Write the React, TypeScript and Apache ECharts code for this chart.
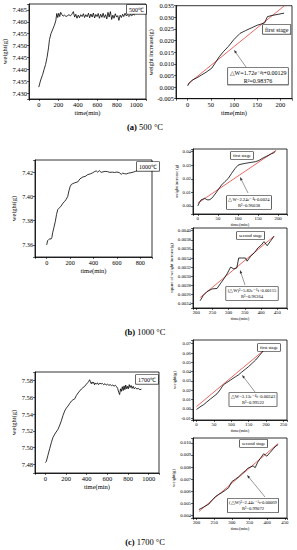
import React, { useEffect, useRef } from 'react';
import * as echarts from 'echarts';

const FONT = '"Liberation Serif", "Times New Roman", serif';

// ---------- (a) 500 °C ----------
const a500Time = [0, 20, 40, 55, 70, 85, 100, 110, 125, 145, 160, 175, 185, 195, 205, 215, 225, 238, 250, 265, 280, 295, 310, 325, 340, 355, 368, 380, 392, 405, 418, 430, 445, 458, 470, 483, 496, 510, 522, 535, 548, 560, 573, 585, 598, 610, 622, 635, 648, 660, 672, 685, 698, 710, 722, 735, 748, 760, 772, 785, 798, 810, 822, 835, 848, 860, 872, 885, 898, 910, 925, 940, 955, 970, 985];
const a500Weight = [7.4325, 7.4355, 7.4378, 7.44, 7.442, 7.445, 7.449, 7.4525, 7.455, 7.457, 7.4585, 7.4605, 7.4635, 7.4618, 7.4636, 7.4622, 7.464, 7.463, 7.4624, 7.4628, 7.4622, 7.4626, 7.463, 7.4625, 7.4632, 7.4643, 7.462, 7.4632, 7.4615, 7.4628, 7.4617, 7.463, 7.4622, 7.4634, 7.4618, 7.463, 7.4621, 7.4636, 7.4617, 7.4633, 7.462, 7.4637, 7.4616, 7.4631, 7.4622, 7.4635, 7.4615, 7.4632, 7.4619, 7.4636, 7.4618, 7.463, 7.4612, 7.464, 7.462, 7.4643, 7.461, 7.4628, 7.4615, 7.4634, 7.462, 7.4626, 7.4606, 7.4628, 7.4618, 7.4632, 7.4622, 7.4636, 7.4625, 7.463, 7.4622, 7.463, 7.4626, 7.4632, 7.4628];
const a1Time = [0, 4, 10, 20, 30, 40, 52, 60, 68, 77, 88, 100, 113, 125, 138, 150, 160, 166, 172, 182, 195, 208];
const a1Gain = [0.0005, 0.0018, 0.003, 0.004, 0.0052, 0.0064, 0.0081, 0.0105, 0.013, 0.0152, 0.0175, 0.0205, 0.0231, 0.0243, 0.0255, 0.0266, 0.0272, 0.0276, 0.0303, 0.0308, 0.0313, 0.0318];
const a1FitTime = [0, 210];
const a1FitGain = [0.0012, 0.0352];

// ---------- (b) 1000 °C ----------
const b1000Time = [0, 8, 17, 27, 37, 44, 51, 62, 74, 84, 94, 108, 123, 140, 155, 166, 180, 190, 200, 212, 223, 240, 266, 285, 309, 330, 351, 372, 394, 410, 423, 435, 450, 465, 480, 500, 520, 540, 560, 580, 600, 620, 637, 650, 665, 680, 700, 720, 740, 760, 775];
const b1000Weight = [7.36, 7.3635, 7.3644, 7.365, 7.3648, 7.366, 7.37, 7.3745, 7.3795, 7.385, 7.389, 7.3905, 7.392, 7.3945, 7.396, 7.3975, 7.4, 7.4045, 7.408, 7.41, 7.4105, 7.4112, 7.412, 7.4145, 7.416, 7.4165, 7.418, 7.4185, 7.4195, 7.4205, 7.421, 7.42, 7.4212, 7.4198, 7.4202, 7.4206, 7.4204, 7.4198, 7.42, 7.4197, 7.4201, 7.4196, 7.4182, 7.4192, 7.4187, 7.4185, 7.4192, 7.4195, 7.42, 7.4207, 7.4212];
const b1Time = [0, 4, 8, 13, 17, 21, 25, 30, 36, 45, 52, 59, 67, 76, 84, 93, 100, 105, 118, 130, 143, 152, 160, 170, 177, 183, 189, 193];
const b1Gain = [0, 0.0025, 0.0044, 0.005, 0.0056, 0.0048, 0.0044, 0.0046, 0.006, 0.0095, 0.0125, 0.0154, 0.0178, 0.0203, 0.024, 0.0277, 0.03, 0.0306, 0.0314, 0.032, 0.0326, 0.0335, 0.035, 0.0365, 0.0375, 0.0385, 0.0392, 0.0402];
const b1FitTime = [0, 195];
const b1FitGain = [0.002, 0.041];
const b2Time = [212, 222, 233, 249, 264, 274, 285, 295, 306, 316, 325, 331, 340, 352, 357, 368, 380, 390, 400, 409, 419, 430, 440];
const b2Square = [0.00246, 0.00258, 0.00266, 0.00272, 0.00273, 0.00283, 0.00294, 0.00305, 0.0032, 0.00316, 0.00318, 0.0034, 0.0034, 0.0034, 0.00333, 0.00344, 0.00352, 0.00362, 0.00368, 0.00376, 0.00367, 0.00378, 0.00388];
const b2FitTime = [212, 440];
const b2FitSquare = [0.00253, 0.00388];

// ---------- (c) 1700 °C ----------
const c1700Time = [0, 10, 25, 42, 58, 74, 98, 123, 140, 155, 170, 187, 203, 219, 235, 252, 268, 284, 300, 316, 333, 349, 365, 381, 397, 413, 421, 429, 437, 445, 452, 460, 468, 476, 484, 495, 505, 515, 528, 540, 552, 565, 578, 590, 602, 615, 628, 640, 652, 665, 678, 690, 700, 710, 719, 728, 736, 745, 753, 762, 770, 778, 787, 795, 803, 812, 820, 830, 840, 850, 860, 872, 885, 900, 915, 930];
const c1700Weight = [7.4823, 7.4839, 7.491, 7.4988, 7.506, 7.5124, 7.5175, 7.522, 7.527, 7.532, 7.538, 7.5437, 7.547, 7.5495, 7.5525, 7.5554, 7.557, 7.558, 7.562, 7.565, 7.5675, 7.5698, 7.5715, 7.573, 7.5755, 7.5777, 7.579, 7.5808, 7.578, 7.576, 7.5782, 7.5765, 7.5778, 7.5748, 7.577, 7.5755, 7.5772, 7.575, 7.5768, 7.5758, 7.5765, 7.5748, 7.5762, 7.5744, 7.5755, 7.5742, 7.575, 7.5738, 7.5745, 7.5732, 7.5742, 7.5725, 7.5705, 7.566, 7.5632, 7.57, 7.567, 7.5725, 7.568, 7.5735, 7.569, 7.5745, 7.57, 7.573, 7.57, 7.575, 7.5715, 7.574, 7.5705, 7.573, 7.57, 7.5715, 7.5698, 7.5705, 7.569, 7.5695];
const c1Time = [0, 10, 21, 30, 40, 50, 59, 68, 77, 85, 91, 98, 105, 112, 120, 130, 140, 150, 160, 170, 180, 190, 200];
const c1Gain = [-0.0007, 0.002, 0.0046, 0.0075, 0.0106, 0.0135, 0.0162, 0.0205, 0.0257, 0.0278, 0.0292, 0.031, 0.0328, 0.0345, 0.0363, 0.0395, 0.0425, 0.0455, 0.049, 0.0525, 0.057, 0.0615, 0.0655];
const c1FitTime = [0, 200];
const c1FitGain = [0.0024, 0.065];
const c2Time = [207, 220, 235, 245, 254, 263, 272, 282, 291, 296, 300, 310, 319, 328, 338, 345, 352, 360, 366, 373, 380, 390, 399, 408, 417, 425, 431];
const c2Square = [0.0045, 0.0047, 0.00495, 0.0053, 0.00558, 0.00575, 0.0059, 0.0061, 0.0063, 0.0066, 0.0068, 0.007, 0.0072, 0.00745, 0.0077, 0.0079, 0.008, 0.0081, 0.00795, 0.0084, 0.0087, 0.0091, 0.0089, 0.0092, 0.0095, 0.00975, 0.00985];
const c2FitTime = [207, 431];
const c2FitSquare = [0.00434, 0.00995];

const pairs = (xs: number[], ys: number[]) => xs.map((x, i) => [x, ys[i]]);

function axis(gi: number, min: number, max: number, step: number, dec: number, fs: number, name: string, gap: number, nfs: number, isY: boolean) {
  return {
    gridIndex: gi,
    type: 'value',
    min,
    max,
    splitNumber: Math.round((max - min) / step),
    minInterval: step,
    maxInterval: step,
    axisLine: { show: true, onZero: false, lineStyle: { color: '#000', width: 0.8 } },
    axisTick: { show: true, length: 2, lineStyle: { color: '#000', width: 0.6 } },
    splitLine: { show: false },
    axisLabel: {
      fontSize: fs,
      fontFamily: FONT,
      color: '#000',
      margin: 2,
      showMinLabel: true,
      showMaxLabel: true,
      formatter: (v: number) => {
        const k = v / step;
        return Math.abs(k - Math.round(k)) < 1e-6 ? v.toFixed(dec) : '';
      },
    },
    name,
    nameLocation: 'middle',
    nameGap: gap,
    nameRotate: isY ? 90 : 0,
    nameTextStyle: { fontSize: nfs, fontFamily: FONT, color: '#000' },
  };
}

function line(gi: number, data: number[][], color: string, z = 2) {
  return {
    type: 'line',
    xAxisIndex: gi,
    yAxisIndex: gi,
    data,
    symbol: 'none',
    showSymbol: false,
    clip: true,
    z,
    lineStyle: { color, width: 0.8 },
  };
}

function boxText(x: number, y: number, text: string, fs: number, align = 'left') {
  return {
    type: 'text',
    x,
    y,
    z: 50,
    style: {
      text,
      fontSize: fs,
      fontFamily: FONT,
      fill: '#000',
      align,
      lineHeight: fs * 1.3,
      backgroundColor: '#fff',
      borderColor: '#000',
      borderWidth: 0.6,
      padding: [1, 2, 0, 2],
    },
  };
}

function arrow(x1: number, y1: number, x2: number, y2: number) {
  const ang = Math.atan2(y2 - y1, x2 - x1);
  const L = 3.5, W = 1.3;
  const bx = x2 - L * Math.cos(ang), by = y2 - L * Math.sin(ang);
  const px = -Math.sin(ang) * W, py = Math.cos(ang) * W;
  return [
    { type: 'line', z: 50, shape: { x1, y1, x2: bx, y2: by }, style: { stroke: '#333', lineWidth: 0.5 } },
    { type: 'polygon', z: 50, shape: { points: [[x2, y2], [bx + px, by + py], [bx - px, by - py]] }, style: { fill: '#333' } },
  ];
}

function caption(cx: number, cy: number, letter: string, rest: string) {
  return {
    type: 'text',
    x: cx,
    y: cy,
    z: 50,
    style: {
      text: `{b|(${letter})} ${rest}`,
      align: 'center',
      verticalAlign: 'middle',
      fontSize: 8.5,
      fontFamily: FONT,
      fill: '#000',
      rich: { b: { fontWeight: 'bold', fontSize: 8.5, fontFamily: FONT } },
    },
  };
}

const RED = '#e8413c';

export default function App() {
  const ref = useRef<HTMLDivElement>(null);
  useEffect(() => {
    if (!ref.current) return;
    const chart = echarts.init(ref.current, null, { renderer: 'svg' });
    const gridBox = (left: number, top: number, width: number, height: number) => ({
      left, top, width, height, show: true, borderColor: '#000', borderWidth: 0.8, backgroundColor: 'transparent', containLabel: false,
    });
    const option: any = {
      animation: false,
      backgroundColor: '#fff',
      grid: [
        gridBox(29, 4, 117, 95),
        gridBox(176, 5.7, 116, 93),
        gridBox(35, 160, 117, 97),
        gridBox(193, 149, 94, 65),
        gridBox(193, 228, 94, 80),
        gridBox(35, 372, 124, 101),
        gridBox(193, 340, 94, 80),
        gridBox(193, 438, 94, 80),
      ],
      xAxis: [
        axis(0, -100, 1100, 200, 0, 6.5, 'time(min)', 9, 6.5, false),
        axis(1, -25, 225, 50, 0, 6.5, 'time(min)', 9, 6.5, false),
        axis(2, -100, 900, 200, 0, 6.2, 'time(min)', 10, 6.5, false),
        axis(3, -12, 222, 50, 0, 4.8, 'time(min)', 7, 4.6, false),
        axis(4, 190, 480, 50, 0, 4.8, 'time(min)', 7, 4.6, false),
        axis(5, -100, 1100, 200, 0, 6.5, 'time(min)', 10, 6.5, false),
        axis(6, -10, 260, 50, 0, 4.8, 'time(min)', 7, 4.6, false),
        axis(7, 190, 456, 50, 0, 4.8, 'time(min)', 7, 4.6, false),
      ],
      yAxis: [
        axis(0, 7.4275, 7.4675, 0.005, 3, 6.5, 'weight(g)', 19, 6.5, true),
        axis(1, -0.005, 0.035, 0.005, 3, 6.5, 'weight increase(g)', 20, 6.2, true),
        axis(2, 7.35, 7.43, 0.02, 2, 6.2, 'weight(g)', 18, 6.5, true),
        axis(3, -0.006, 0.042, 0.01, 2, 4.8, 'weight increase (g)', 13, 4.4, true),
        axis(4, 0.0023, 0.00406, 0.0002, 4, 4.8, 'square of weight increase(g)', 17, 4.4, true),
        axis(5, 7.47, 7.59, 0.02, 2, 6.5, 'weight(g)', 18, 6.5, true),
        axis(6, -0.012, 0.074, 0.01, 2, 4.8, 'weight(g)', 13, 4.6, true),
        axis(7, 0.0038, 0.0104, 0.001, 3, 4.8, 'weight(g)', 15, 4.6, true),
      ],
      series: [
        line(0, pairs(a500Time, a500Weight), '#000'),
        line(1, pairs(a1FitTime, a1FitGain), RED, 2),
        line(1, pairs(a1Time, a1Gain), '#000', 3),
        line(2, pairs(b1000Time, b1000Weight), '#000'),
        line(3, pairs(b1FitTime, b1FitGain), RED, 2),
        line(3, pairs(b1Time, b1Gain), '#000', 3),
        line(4, pairs(b2FitTime, b2FitSquare), RED, 2),
        line(4, pairs(b2Time, b2Square), '#000', 3),
        line(5, pairs(c1700Time, c1700Weight), '#000'),
        line(6, pairs(c1FitTime, c1FitGain), RED, 2),
        line(6, pairs(c1Time, c1Gain), '#000', 3),
        line(7, pairs(c2FitTime, c2FitSquare), RED, 2),
        line(7, pairs(c2Time, c2Square), '#000', 3),
      ],
      graphic: [
        // (a)
        boxText(127, 5, '500℃', 6),
        boxText(263, 25, 'first stage', 6),
        boxText(258, 68, '△W=1.72e⁻⁴t+0.00129\nR²=0.98376', 6, 'center'),
        ...arrow(246, 67, 234, 50),
        caption(145, 127, 'a', '500 °C'),
        // (b)
        boxText(137, 162, '1000℃', 6),
        boxText(231, 152, 'first stage', 4.6),
        boxText(249, 196, '△W=2.24e⁻⁴t-0.0024\nR²=0.96038', 4.6, 'center'),
        ...arrow(248, 193, 240, 177),
        boxText(237, 232, 'second stage', 4.6),
        boxText(252, 287, '(△W)²=5.82e⁻⁶t+0.00115\nR²=0.96364', 4.6, 'center'),
        ...arrow(245, 285, 240, 270),
        caption(145, 332, 'b', '1000 °C'),
        // (c)
        boxText(136, 375, '1700℃', 6),
        boxText(258, 344, 'first stage', 4.6),
        boxText(253, 393, '△W=3.13e⁻⁴t+0.00243\nR²=0.99522', 4.6, 'center'),
        ...arrow(255, 392, 242, 375),
        boxText(240, 440, 'second stage', 4.6),
        boxText(253, 499, '(△W)²=2.44e⁻⁵t-0.00069\nR²=0.99072', 4.6, 'center'),
        ...arrow(265, 497, 247, 475),
        caption(145, 542, 'c', '1700 °C'),
      ],
    };
    chart.setOption(option);
    return () => chart.dispose();
  }, []);
  return <div ref={ref} style={{ position: 'absolute', left: 0, top: 0, width: 297, height: 550 }} />;
}
